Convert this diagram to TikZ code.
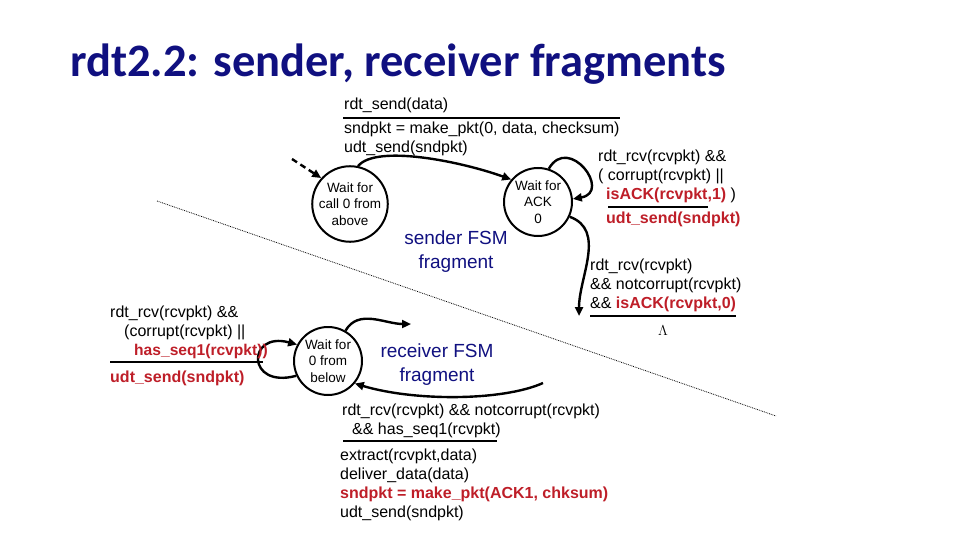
\documentclass[tikz,border=0pt]{standalone}
\usepackage{fontspec}
\setmainfont{Liberation Sans}
\newfontfamily\titlefont{Carlito}
\usetikzlibrary{arrows.meta}
\definecolor{navyblue}{RGB}{16,16,128}
\definecolor{actred}{RGB}{190,30,40}

\begin{document}
\begin{tikzpicture}[x=1pt, y=1pt,
    state/.style={draw, circle, line width=2pt, minimum size=68pt, inner sep=0pt, align=center, font=\fontsize{13.5}{16.5}\selectfont},
    trans/.style={-{Triangle[length=9pt,width=8pt]}, line width=2.4pt},
    lbl/.style={anchor=north west, inner sep=0pt, align=left, font=\fontsize{16}{19}\selectfont},
    act/.style={text=actred, font=\fontsize{16}{19}\selectfont\bfseries},
    bar/.style={line width=2.6pt},
    frag/.style={align=center, text=navyblue, font=\fontsize{19}{24}\selectfont}
]
    \useasboundingbox (0,0) rectangle (960,-540);
    \node[anchor=base west, inner sep=0pt, text=navyblue, font=\titlefont\bfseries\fontsize{46.5}{50}\selectfont] (title) at (70,-77) {rdt2.2: sender, receiver fragments};

    % sender
    \node[state] (call0) at (350,-204) {Wait for\\call 0 from\\above};
    \node[state] (ack0) at (538,-202) {Wait for\\ACK\\0};
    \node[frag] (sendfrag) at (456,-252) {sender FSM\\fragment};
    \coordinate (init) at (292,-159);
    \coordinate (ackout) at (579,-316);
    \draw[trans, dash pattern=on 6pt off 4pt] (init) -- (call0.138);
    \draw[trans] (call0.78) .. controls +(18,22) and +(-50,18) .. (ack0.140);
    \draw[trans] (ack0.72) .. controls +(60:40) and +(10:40) .. (ack0.5);
    \draw[trans] (ack0.-25) to[out=-20, in=90] (ackout);

    \node[lbl] (sendlbl) at (344,-98) {rdt\_send(data)};
    \node[lbl] (sendact) at (344,-122) {sndpkt = make\_pkt(0, data, checksum)\\udt\_send(sndpkt)};
    \draw[bar] (343,-118) -- (620,-118);
    \node[lbl] (acklbl) at (598,-150) {rdt\_rcv(rcvpkt) \&\&\\( corrupt(rcvpkt) ||\\\hspace*{8pt}\textcolor{actred}{\bfseries isACK(rcvpkt,1)} )};
    \draw[bar] (608,-207) -- (708,-207);
    \node[lbl, act] (ackact) at (606,-212) {udt\_send(sndpkt)};
    \node[lbl] (oklbl) at (590,-259) {rdt\_rcv(rcvpkt)\\\&\& notcorrupt(rcvpkt)\\\&\& \textcolor{actred}{\bfseries isACK(rcvpkt,0)}};
    \draw[bar] (590,-316) -- (736,-316);
    \node[font=\fontsize{14}{16}\selectfont] (okact) at (663,-331) {$\Lambda$};

    % divider
    \coordinate (divl) at (157,-201);
    \coordinate (divr) at (776,-416);
    \draw[densely dotted, line width=0.8pt] (divl) -- (divr);

    % receiver
    \node[state] (below0) at (328,-361) {Wait for\\0 from\\below};
    \node[frag] (rcvfrag) at (437,-365) {receiver FSM\\fragment};
    \coordinate (rcvout) at (411,-324);
    \coordinate (rcvin) at (543,-383);
    \draw[trans] (below0.205) .. controls +(195:52) and +(165:52) .. (below0.152);
    \draw[trans] (below0.60) to[out=60, in=180] (rcvout);
    \draw[trans] (rcvin) .. controls +(-40,-18) and +(60,-18) .. (below0.-40);

    \node[lbl] (badlbl) at (110,-306) {rdt\_rcv(rcvpkt) \&\&\\\hspace*{14pt}(corrupt(rcvpkt) ||\\\hspace*{24pt}\textcolor{actred}{\bfseries\fontsize{15.6}{19}\selectfont has\_seq1(rcvpkt))}};
    \draw[bar] (110,-362) -- (263,-362);
    \node[lbl, act] (badact) at (110,-371) {udt\_send(sndpkt)};
    \node[lbl] (goodlbl) at (342,-404) {rdt\_rcv(rcvpkt) \&\& notcorrupt(rcvpkt)\\\hspace*{10pt}\&\& has\_seq1(rcvpkt)};
    \draw[bar] (343,-441) -- (497,-441);
    \node[lbl] (goodact) at (340,-449) {extract(rcvpkt,data)\\deliver\_data(data)\\\textcolor{actred}{\bfseries sndpkt = make\_pkt(ACK1, chksum)}\\udt\_send(sndpkt)};
\end{tikzpicture}
\end{document}
